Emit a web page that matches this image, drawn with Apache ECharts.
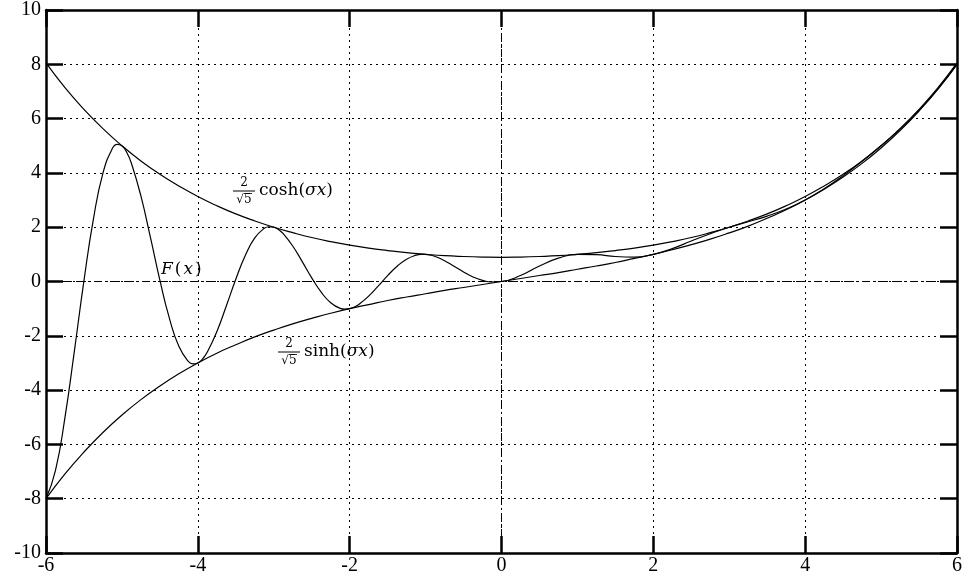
<!DOCTYPE html>
<html>
<head>
<meta charset="utf-8">
<script src="https://cdn.jsdelivr.net/npm/echarts@6/dist/echarts.min.js"></script>
<style>html,body{margin:0;padding:0;background:#fff}#c{width:965px;height:581px}</style>
</head>
<body>
<div id="c"></div>
<script>
// x positions for the bound curves (step 0.25)
var xs = [-6,-5.75,-5.5,-5.25,-5,-4.75,-4.5,-4.25,-4,-3.75,-3.5,-3.25,-3,-2.75,-2.5,-2.25,-2,-1.75,-1.5,-1.25,-1,-0.75,-0.5,-0.25,0,0.25,0.5,0.75,1,1.25,1.5,1.75,2,2.25,2.5,2.75,3,3.25,3.5,3.75,4,4.25,4.5,4.75,5,5.25,5.5,5.75,6];
// x positions for F(x)
var xsF = [-6,-5.875,-5.75,-5.625,-5.5,-5.375,-5.25,-5.125,-5.0625,-5,-4.9375,-4.875,-4.75,-4.625,-4.5,-4.375,-4.25,-4.125,-4.0625,-4,-3.9375,-3.875,-3.75,-3.625,-3.5,-3.375,-3.25,-3.125,-3.0625,-3,-2.9375,-2.875,-2.75,-2.625,-2.5,-2.375,-2.25,-2.125,-2.0625,-2,-1.9375,-1.875,-1.75,-1.625,-1.5,-1.375,-1.25,-1.125,-1.0625,-1,-0.9375,-0.875,-0.75,-0.625,-0.5,-0.375,-0.25,-0.125,0,0.25,0.5,0.75,1,1.25,1.5,1.75,2,2.25,2.5,2.75,3,3.25,3.5,3.75,4,4.25,4.5,4.75,5,5.25,5.5,5.75,6];
// F(x)
var fVals = [-8,-6.955,-5.003,-2.534,0.032,2.307,3.991,4.904,5.052,5,4.762,4.357,3.155,1.633,0.051,-1.351,-2.387,-2.946,-3.035,-3,-2.850,-2.597,-1.848,-0.901,0.083,0.957,1.604,1.958,2.017,2,1.912,1.760,1.307,0.732,0.134,-0.394,-0.782,-0.988,-1.018,-1,-0.938,-0.837,-0.541,-0.170,0.217,0.562,0.822,0.970,1.000,1,0.974,0.923,0.765,0.562,0.352,0.168,0.040,-0.018,0,0.22,0.57,0.86,1,0.99,0.92,0.90,1,1.21,1.49,1.76,2,2.20,2.41,2.67,3,3.42,3.90,4.43,5,5.62,6.31,7.10,8];
// (2/sqrt5) cosh(sigma x)
var coshVals = [8.05,7.14,6.34,5.63,5,4.44,3.95,3.52,3.13,2.79,2.49,2.23,2,1.80,1.62,1.47,1.34,1.23,1.14,1.06,1,0.95,0.92,0.90,0.89,0.90,0.92,0.95,1,1.06,1.14,1.23,1.34,1.47,1.62,1.80,2,2.23,2.49,2.79,3.13,3.52,3.95,4.44,5,5.63,6.34,7.14,8.05];
// (2/sqrt5) sinh(sigma x)
var sinhVals = [-8,-7.09,-6.28,-5.56,-4.92,-4.35,-3.85,-3.40,-3,-2.64,-2.33,-2.04,-1.79,-1.56,-1.36,-1.17,-1,-0.85,-0.70,-0.57,-0.45,-0.33,-0.22,-0.11,0,0.11,0.22,0.33,0.45,0.57,0.70,0.85,1,1.17,1.36,1.56,1.79,2.04,2.33,2.64,3,3.40,3.85,4.35,4.92,5.56,6.28,7.09,8];

function pairs(x, v){ return x.map(function(a,i){ return [a, v[i]]; }); }

var FONT = 'Liberation Serif';
var AFONT = 'DejaVu Serif';
var chart = echarts.init(document.getElementById('c'));
var axisCommon = {
  type:'value',
  axisLine:{show:true,onZero:false,lineStyle:{color:'#000',width:2.5}},
  axisTick:{show:true,inside:true,length:17,lineStyle:{color:'#000',width:2.5}},
  splitLine:{show:false}
};
var lineStyle = {color:'#000',width:1.2};
chart.setOption({
  animation:false,
  backgroundColor:'#fff',
  grid:{left:46,right:7,top:10,bottom:28,containLabel:false},
  xAxis:[
    Object.assign({},axisCommon,{min:-6,max:6,interval:2,position:'bottom',
      axisLabel:{color:'#000',fontFamily:FONT,fontSize:20,margin:3},
      splitLine:{show:true,lineStyle:{color:'#000',width:1,type:[2,4]}}}),
    Object.assign({},axisCommon,{min:-6,max:6,interval:2,position:'top',axisLabel:{show:false}})
  ],
  yAxis:[
    Object.assign({},axisCommon,{min:-10,max:10,interval:2,position:'left',
      axisLabel:{color:'#000',fontFamily:FONT,fontSize:20,margin:5},
      splitLine:{show:true,lineStyle:{color:'#000',width:1,type:[2,4]}}}),
    Object.assign({},axisCommon,{min:-10,max:10,interval:2,position:'right',axisLabel:{show:false}})
  ],
  series:[
    {type:'line',data:pairs(xs,coshVals),showSymbol:false,smooth:0.5,lineStyle:lineStyle,z:3,
      markLine:{silent:true,symbol:'none',label:{show:false},
        lineStyle:{color:'#000',width:1,type:[8,3,2,3]},
        data:[{xAxis:0},{yAxis:0}]}},
    {type:'line',data:pairs(xs,sinhVals),showSymbol:false,smooth:0.5,lineStyle:lineStyle,z:3},
    {type:'line',data:pairs(xsF,fVals),showSymbol:false,smooth:0.5,lineStyle:lineStyle,z:3}
  ]
});

function frac(cx, cy, label){
  var fs = 12;
  return {type:'group',children:[
    {type:'text',style:{x:cx,y:cy-8,text:'2',fontFamily:AFONT,fontSize:fs,fill:'#000',align:'center',verticalAlign:'middle'}},
    {type:'line',shape:{x1:cx-11,y1:cy,x2:cx+11,y2:cy},style:{stroke:'#000',lineWidth:1}},
    {type:'text',style:{x:cx,y:cy+9,text:'√5',fontFamily:AFONT,fontSize:fs,fill:'#000',align:'center',verticalAlign:'middle'}},
    {type:'line',shape:{x1:cx,y1:cy+2.5,x2:cx+8,y2:cy+2.5},style:{stroke:'#000',lineWidth:0.8}},
    {type:'text',style:{x:cx+15,y:cy,text:'{n|'+label+'(}{i|σx}{n|)}',verticalAlign:'middle',align:'left',
      rich:{n:{fontFamily:AFONT,fontSize:17,fill:'#000'},i:{fontFamily:AFONT,fontSize:17,fontStyle:'italic',fill:'#000'}}}}
  ]};
}
chart.setOption({graphic:[
  frac(244,191,'cosh'),
  frac(289,352,'sinh'),
  {type:'text',style:{x:160,y:270,text:'{i|F}{n|(}{i|x}{n|)}',verticalAlign:'middle',align:'left',
    rich:{n:{fontFamily:AFONT,fontSize:17,fill:'#000',padding:[0,1]},i:{fontFamily:AFONT,fontSize:17,fontStyle:'italic',fill:'#000',padding:[0,1]}}}}
]});
</script>
</body>
</html>
